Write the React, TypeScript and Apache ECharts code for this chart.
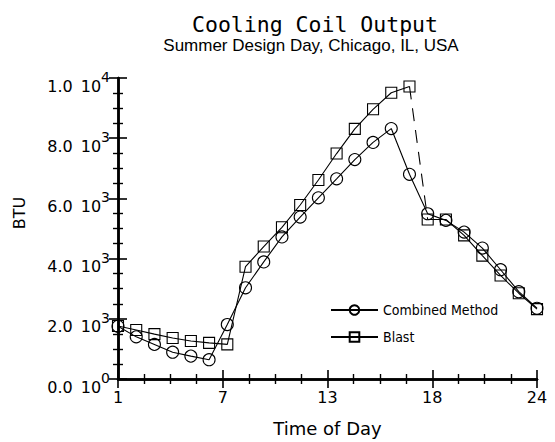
import React, { useEffect, useRef } from "react";
import * as echarts from "echarts";

const hours = [1, 2, 3, 4, 5, 6, 7, 8, 9, 10, 11, 12, 13, 14, 15, 16, 17, 18, 19, 20, 21, 22, 23, 24];
const combined = [1750, 1400, 1150, 890, 760, 640, 1810, 3030, 3890, 4720, 5380, 6020, 6650, 7290, 7860, 8320, 6800, 5490, 5270, 4880, 4350, 3630, 2900, 2350];
const blast = [1760, 1630, 1490, 1360, 1260, 1200, 1150, 3730, 4400, 5040, 5780, 6610, 7490, 8310, 8960, 9510, 9720, 5300, 5300, 4770, 4100, 3440, 2850, 2320];
const xTickLabels = ["1", "7", "13", "18", "24"];
const yTickMantissa = ["0.0", "2.0", "4.0", "6.0", "8.0", "1.0"];
const yTickExponent = ["0", "3", "3", "3", "3", "4"];

const TITLE = "Cooling Coil Output";
const SUBTITLE = "Summer Design Day, Chicago, IL, USA";
const X_NAME = "Time of Day";
const Y_NAME = "BTU";
const SERIES_A = "Combined Method";
const SERIES_B = "Blast";

const FONT = "'Liberation Sans', Arial, sans-serif";
const WIDE = "'DejaVu Sans', 'Liberation Sans', sans-serif";
const NARROW = "'Liberation Sans Narrow', 'DejaVu Sans Condensed', 'Liberation Sans', sans-serif";

export default function App() {
  const ref = useRef<HTMLDivElement>(null);
  useEffect(() => {
    if (!ref.current) return;
    const chart = echarts.init(ref.current, undefined, { renderer: "svg" });
    const xs = hours.map((h) => h - 1);
    const combData = xs.map((x, i) => [x, combined[i]]);
    const blastData = xs.map((x, i) => [x, blast[i]]);
    const splitAt = 16; // index of hour 17
    const xInterval = 5.75;

    const axisLineStyle = { show: true, lineStyle: { color: "#000", width: 2.5 } };
    const tick = { show: true, inside: true, length: 9, lineStyle: { color: "#000", width: 1.6 } };
    const minor = { show: true, splitNumber: 4, length: 5, lineStyle: { color: "#000", width: 1.4 } };

    const xBase = {
      type: "value",
      min: 0,
      max: 23,
      interval: xInterval,
      axisLine: axisLineStyle,
      axisTick: tick,
      minorTick: minor,
      splitLine: { show: false },
      minorSplitLine: { show: false },
    };
    const yBase = {
      type: "value",
      min: 0,
      max: 10000,
      interval: 2000,
      axisLine: axisLineStyle,
      axisTick: tick,
      minorTick: minor,
      splitLine: { show: false },
      minorSplitLine: { show: false },
    };

    const sym = {
      symbolSize: 12,
      itemStyle: { color: "rgba(255,255,255,0)", borderColor: "#000", borderWidth: 1.1 },
      lineStyle: { color: "#000", width: 1.1 },
    };

    chart.setOption({
      animation: false,
      backgroundColor: "#fff",
      title: [
        {
          text: TITLE,
          left: 310,
          top: 8,
          textAlign: "center",
          textStyle: { fontFamily: "'DejaVu Sans Mono', monospace", fontSize: 21.5, fontWeight: "normal", color: "#000" },
        },
        {
          text: SUBTITLE,
          left: 306,
          top: 32,
          textAlign: "center",
          textStyle: { fontFamily: FONT, fontSize: 17, fontWeight: "normal", color: "#000" },
        },
      ],
      legend: {
        data: [SERIES_A, SERIES_B],
        orient: "vertical",
        left: 325,
        top: 298,
        itemWidth: 47,
        itemHeight: 12,
        itemGap: 13,
        textStyle: { fontFamily: NARROW, fontSize: 14, color: "#000" },
      },
      grid: { left: 118, right: 18, top: 78, bottom: 51, containLabel: false },
      xAxis: [
        {
          ...xBase,
          position: "bottom",
          name: X_NAME,
          nameLocation: "middle",
          nameGap: 40,
          nameTextStyle: { fontFamily: WIDE, fontSize: 18, color: "#000" },
          axisLabel: {
            show: true,
            margin: 10,
            color: "#000",
            fontFamily: WIDE,
            fontSize: 16,
            formatter: (v: number) => xTickLabels[Math.round(v / xInterval)] ?? "",
          },
        },
        { ...xBase, position: "top", axisLabel: { show: false } },
      ],
      yAxis: [
        {
          ...yBase,
          position: "left",
          axisLabel: {
            show: true,
            margin: 8,
            color: "#000",
            fontFamily: WIDE,
            formatter: (v: number) => {
              const i = Math.round(v / 2000);
              return `{m|${yTickMantissa[i]}}{b|10}{s|${yTickExponent[i]}}`;
            },
            rich: {
              m: { fontFamily: WIDE, fontSize: 16, lineHeight: 16, padding: [16, 0, 0, 0], color: "#000" },
              b: { fontFamily: WIDE, fontSize: 16, lineHeight: 16, padding: [16, 0, 0, 8], color: "#000" },
              s: { fontFamily: WIDE, fontSize: 14, lineHeight: 13, padding: [0, 0, 2, 0], color: "#000" },
            },
          },
        },
        { ...yBase, position: "right", axisLabel: { show: false } },
      ],
      graphic: [
        {
          type: "text",
          x: 19,
          y: 213,
          rotation: Math.PI / 2,
          style: {
            text: Y_NAME,
            fontFamily: WIDE,
            fontSize: 16,
            fill: "#000",
            textAlign: "center",
            textVerticalAlign: "middle",
          },
        },
      ],
      series: [
        {
          name: SERIES_A,
          type: "line",
          symbol: "circle",
          data: combData,
          ...sym,
        },
        {
          name: SERIES_B,
          type: "line",
          symbol: "rect",
          data: blastData.slice(0, splitAt + 1),
          ...sym,
          symbolSize: 11,
        },
        {
          name: SERIES_B,
          type: "line",
          symbol: "rect",
          data: blastData.slice(splitAt + 1),
          ...sym,
          symbolSize: 11,
        },
        {
          name: "Blast transition",
          type: "line",
          symbol: "none",
          data: blastData.slice(splitAt, splitAt + 2),
          lineStyle: { color: "#000", width: 1.1, type: [13, 9] },
        },
      ],
    });
    return () => chart.dispose();
  }, []);
  return <div ref={ref} style={{ width: 555, height: 442, position: "absolute", left: 0, top: 0 }} />;
}
